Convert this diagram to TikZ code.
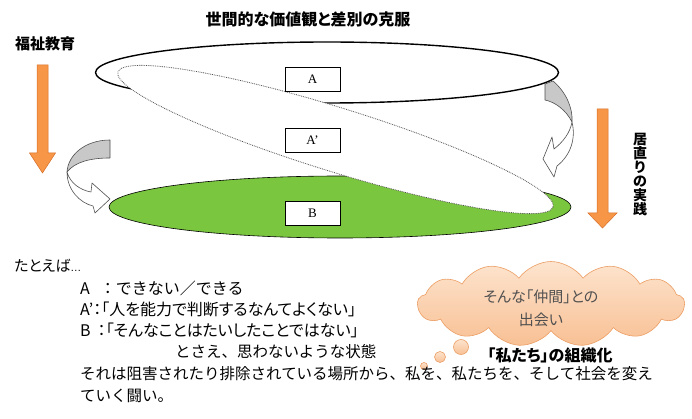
\documentclass[tikz,border=0pt]{standalone}
\usepackage{fontspec}
\setmainfont{Noto Sans CJK JP}[RawFeature=+palt]
\newfontfamily\jpfull{Noto Sans CJK JP}
\newfontfamily\serifA{Liberation Serif}
\newfontfamily\latinS{Liberation Sans}
\usetikzlibrary{shapes.symbols}
\definecolor{orangeA}{RGB}{247,150,70}
\definecolor{orangeB}{RGB}{214,110,40}
\definecolor{greenA}{RGB}{122,198,62}
\definecolor{grayA}{RGB}{200,200,200}
\definecolor{grayB}{RGB}{80,80,80}
\definecolor{cloudT}{RGB}{253,228,206}
\definecolor{cloudB}{RGB}{248,192,148}
\definecolor{cloudD}{RGB}{236,158,100}
\begin{document}
\begin{tikzpicture}[x=1pt,y=-1pt,
  lbl/.style={inner sep=0pt, font=\fontsize{15}{15}\selectfont\bfseries},
  txt/.style={anchor=west, inner sep=0pt, font=\fontsize{16}{16}\selectfont},
  ftxt/.style={anchor=west, inner sep=0pt, font=\jpfull\fontsize{15.5}{15.5}\selectfont},
  abox/.style={draw=black, fill=white, line width=0.6pt, minimum width=55pt, minimum height=24pt, inner sep=0pt, font=\serifA\fontsize{13}{13}\selectfont},
  oarrow/.style={fill=orangeA, draw=orangeB, line width=0.5pt},
  garrow/.style={fill=grayA, draw=grayB, line width=0.6pt, line join=round},
  warrow/.style={fill=white, draw=grayB, line width=0.6pt, line join=round},
  puff/.style={top color=cloudT, bottom color=cloudB, draw=cloudD, line width=0.6pt}]
\useasboundingbox (0,0) rectangle (692,419);

% ellipses
\draw[line width=1.4pt, fill=white] (327,72.5) ellipse [x radius=231.5pt, y radius=30.5pt];
\draw[line width=0.6pt, fill=greenA] (340,207) ellipse [x radius=231pt, y radius=31pt];
\begin{scope}[shift={(335.5,139.5)}, rotate=-17.24]
\draw[densely dotted, draw=grayB, line width=0.8pt, fill=white] (0,0) ellipse [x radius=227.8pt, y radius=32pt];
\end{scope}

% boxes
\node[abox] (A) at (312.5,79) {A};
\node[abox] (Ap) at (312.5,140.5) {A\textquoteright};
\node[abox] (B) at (312.5,213) {B};

% orange arrows
\draw[oarrow] (37,65) -- (48,65) -- (48,153) -- (55.5,153) -- (42.5,173) -- (29.5,153) -- (37,153) -- cycle;
\draw[oarrow] (597,109) -- (608,109) -- (608,213) -- (617,213) -- (602.5,228) -- (588,213) -- (597,213) -- cycle;

% right curved arrow
\draw[garrow] (545,84) -- (553,81) .. controls (566,92) and (573,108) .. (572,122)
  .. controls (566,110) and (555,102) .. (545,100) -- cycle;
\draw[warrow] (572,122) .. controls (576,138) and (571,155) .. (557,166)
  -- (554,177) -- (543,159) -- (552,137) -- (554,149)
  .. controls (563,142) and (570,133) .. (572,122) -- cycle;

% left curved arrow
\draw[garrow] (110,140) -- (110,158) .. controls (90,158) and (75,162) .. (67,172)
  .. controls (68,155) and (85,140) .. (110,140) -- cycle;
\draw[warrow] (67,172) .. controls (67,190) and (80,203) .. (93,206)
  -- (95,213) -- (110,199) -- (92,183) -- (91,192)
  .. controls (80,190) and (70,183) .. (67,172) -- cycle;

% labels
\node[lbl, font=\fontsize{16}{16}\selectfont\bfseries] (title) at (308,19) {世間的な価値観と差別の克服};
\node[lbl] (fukushi) at (45,44) {福祉教育};
\node[lbl, align=center, font=\fontsize{14}{14}\selectfont\bfseries] (igen) at (640,175) {居\\直\\り\\の\\実\\践};

% cloud
\node[cloud, cloud puffs=13, cloud puff arc=110, aspect=3.1, minimum width=267pt, minimum height=85pt, puff] (cloud) at (551,304) {};
\node[align=center, text=grayB, inner sep=0pt, font=\fontsize{15}{23}\selectfont] (ctext) at (541,308) {そんな「仲間」との\\出会い};
\draw[puff] (461,347) circle [radius=7.5pt];
\draw[puff] (440,357) circle [radius=5.5pt];
\draw[puff] (424,366) circle [radius=3.5pt];
\node[lbl, font=\fontsize{16}{16}\selectfont\bfseries] (watashi) at (550,355) {「私たち」の組織化};

% bottom text
\node[txt, font=\fontsize{15}{15}\selectfont] (tatoeba) at (14,266) {たとえば{\latinS\fontsize{11}{11}\selectfont …}};
\node[ftxt, font=\jpfull\fontsize{16}{16}\selectfont] (la) at (80,288) {A\hspace{10pt}：できない／できる};
\node[txt] (lap) at (80,309) {A'：「人を能力で判断するなんてよくない」};
\node[txt] (lb) at (80,330) {B\hspace{7pt}：「そんなことはたいしたことではない」};
\node[ftxt] (lb2) at (175,352) {とさえ、思わないような状態};
\node[ftxt] (l5) at (80,374) {それは阻害されたり排除されている場所から、私を、私たちを、そして社会を変え};
\node[ftxt] (l6) at (80,396) {ていく闘い。};
\end{tikzpicture}
\end{document}
